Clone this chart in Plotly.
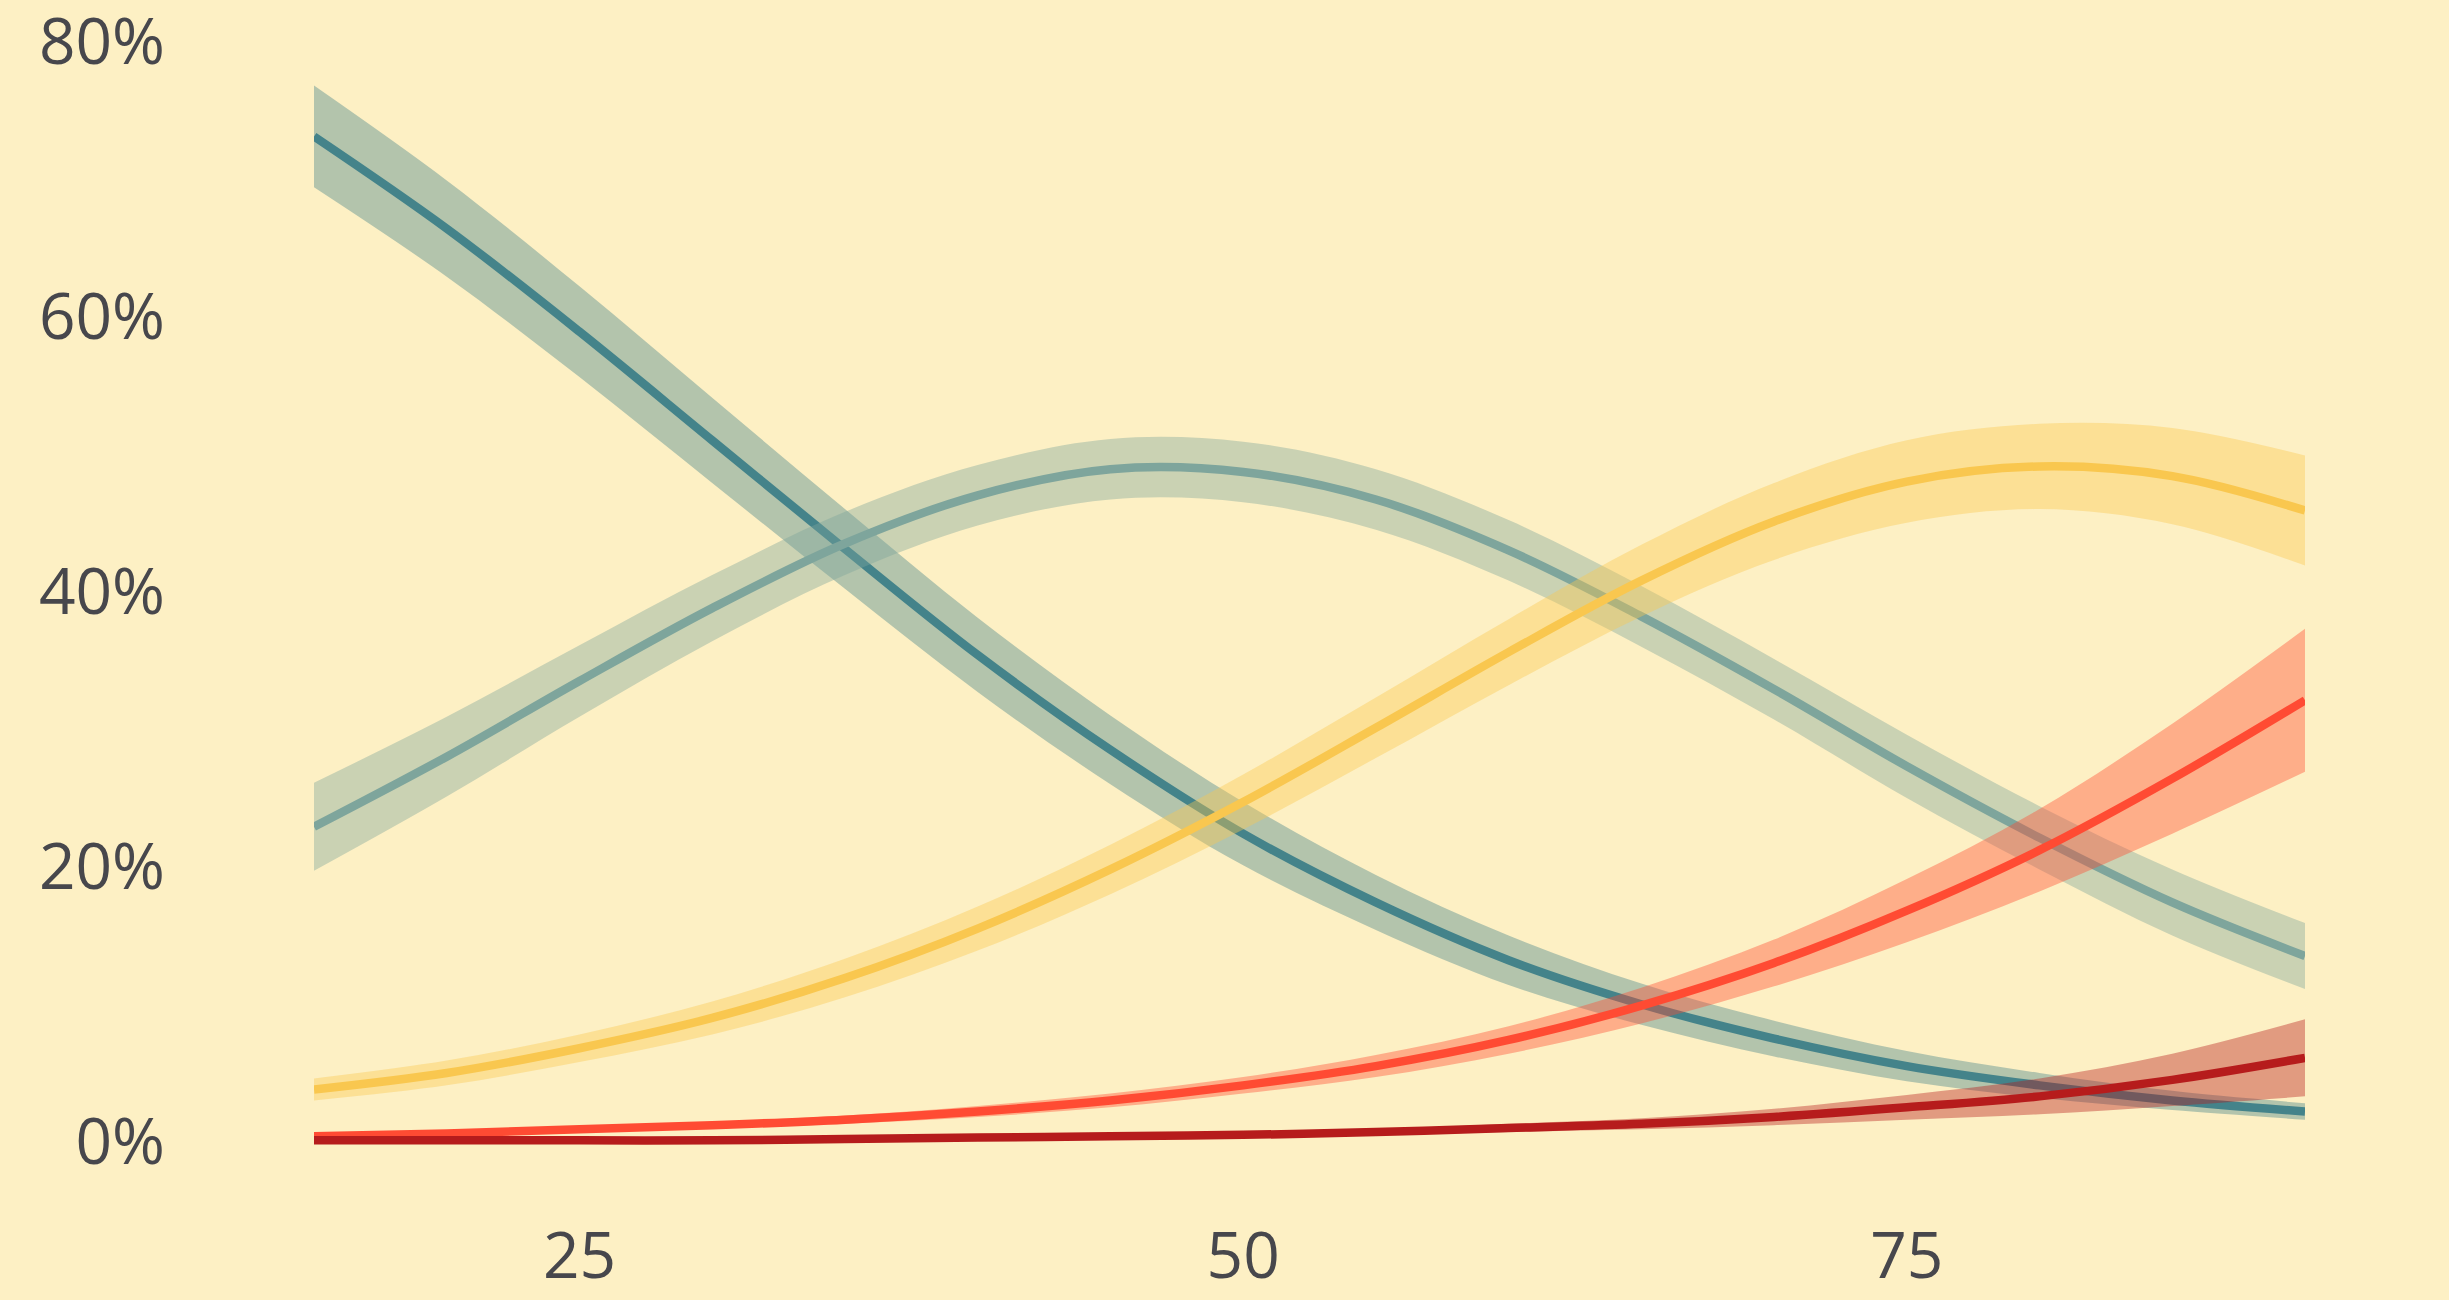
import plotly.graph_objects as go

# Predicted share (%) of each outcome level by age, with confidence half-widths
ages = [15, 20, 25, 30, 35, 40, 45, 50, 55, 60, 65, 70, 75, 80, 85, 90]

level_1 = [73.1, 66.4, 58.9, 51.0, 43.1, 35.4, 28.5, 22.4, 17.4, 13.2, 10.0, 7.5, 5.5, 4.1, 3.0, 2.2]
level_2 = [22.9, 28.0, 33.5, 38.8, 43.5, 47.0, 48.9, 48.7, 46.7, 43.0, 38.2, 32.9, 27.3, 22.1, 17.4, 13.5]
level_3 = [3.8, 5.0, 6.8, 9.0, 11.9, 15.5, 19.8, 24.7, 30.1, 35.6, 40.8, 45.1, 48.0, 49.1, 48.4, 45.9]
level_4 = [0.4, 0.6, 0.9, 1.2, 1.6, 2.2, 3.0, 4.1, 5.5, 7.4, 9.9, 13.0, 16.8, 21.2, 26.4, 32.1]
level_5 = [0.1, 0.1, 0.1, 0.1, 0.2, 0.3, 0.4, 0.5, 0.7, 1.0, 1.3, 1.8, 2.5, 3.3, 4.5, 6.1]

ci_1 = [3.7, 3.5, 3.3, 3.1, 2.9, 2.7, 2.5, 2.3, 2.0, 1.8, 1.5, 1.3, 1.1, 0.9, 0.7, 0.6]
ci_2 = [3.2, 2.9, 2.6, 2.4, 2.3, 2.2, 2.2, 2.2, 2.2, 2.2, 2.2, 2.2, 2.3, 2.3, 2.4, 2.4]
ci_3 = [0.8, 0.9, 1.0, 1.2, 1.4, 1.6, 1.8, 2.0, 2.2, 2.4, 2.6, 2.8, 3.0, 3.1, 3.5, 4.0]
ci_4 = [0.1, 0.15, 0.2, 0.25, 0.3, 0.4, 0.5, 0.6, 0.8, 1.0, 1.3, 1.7, 2.3, 3.0, 4.0, 5.2]
ci_5 = [0.05, 0.05, 0.05, 0.05, 0.05, 0.1, 0.1, 0.15, 0.2, 0.3, 0.4, 0.6, 0.9, 1.3, 1.9, 2.8]

x_ticks = [25, 50, 75]
y_ticks = [0, 20, 40, 60, 80]
y_tick_text = ["0%", "20%", "40%", "60%", "80%"]

series = [
    (level_1, ci_1, (68, 131, 138)),
    (level_2, ci_2, (126, 165, 156)),
    (level_3, ci_3, (249, 199, 79)),
    (level_4, ci_4, (255, 75, 51)),
    (level_5, ci_5, (182, 28, 28)),
]

BG = "#FDF0C4"
TEXT = "#47474c"

fig = go.Figure()
for values, half, (r, g, b) in series:
    lower = [v - h for v, h in zip(values, half)]
    upper = [v + h for v, h in zip(values, half)]
    fig.add_trace(go.Scatter(
        x=ages, y=lower, mode="lines", line=dict(width=0, shape="spline"),
        showlegend=False, hoverinfo="skip"))
    fig.add_trace(go.Scatter(
        x=ages, y=upper, mode="lines", line=dict(width=0, shape="spline"),
        fill="tonexty", fillcolor=f"rgba({r},{g},{b},0.4)",
        showlegend=False, hoverinfo="skip"))
    fig.add_trace(go.Scatter(
        x=ages, y=values, mode="lines",
        line=dict(width=8.5, color=f"rgb({r},{g},{b})", shape="spline"),
        showlegend=False))

fig.update_layout(
    width=2449, height=1300,
    paper_bgcolor=BG, plot_bgcolor=BG,
    margin=dict(l=314, r=144, t=14, b=117, autoexpand=False),
    font=dict(family="Open Sans", size=64, color=TEXT),
    xaxis=dict(range=[15, 90], tickvals=x_ticks, showgrid=False, zeroline=False,
               showline=False, ticks="", ticklabelstandoff=30, automargin=False,
               ticklabeloverflow="allow"),
    yaxis=dict(range=[-3, 82], tickvals=y_ticks, ticktext=y_tick_text,
               showgrid=False, zeroline=False, showline=False, ticks="",
               ticklabelstandoff=148, automargin=False, ticklabeloverflow="allow"),
)

fig.write_html("out.html")
